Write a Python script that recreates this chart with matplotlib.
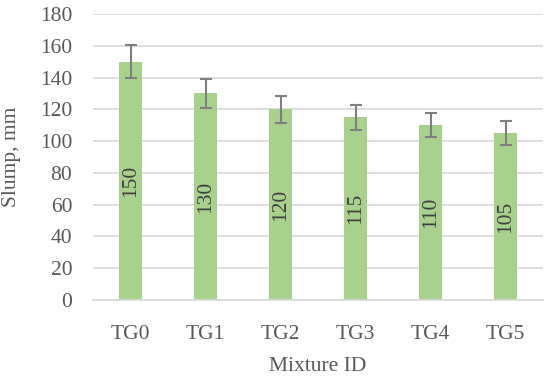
import matplotlib
matplotlib.use("Agg")
import matplotlib.pyplot as plt
import numpy as np

categories = ["TG0", "TG1", "TG2", "TG3", "TG4", "TG5"]
slump = [150, 130, 120, 115, 110, 105]
errors = [10.5, 9, 8.5, 8, 7.7, 7.5]
yticks = [0, 20, 40, 60, 80, 100, 120, 140, 160, 180]

plt.rcParams['font.family'] = ['Liberation Serif', 'DejaVu Serif']
txt = '#595959'
fs = 15.5

fig = plt.figure(figsize=(5.5, 3.78), dpi=100)
ax = fig.add_axes([93/550, 1-300/378, 450/550, (300-14)/378])

x = np.arange(len(categories))
ax.bar(x, slump, width=0.31, color='#A9D18E', zorder=2)
ax.errorbar(x, slump, yerr=errors, fmt='none', ecolor='#7F7F7F', elinewidth=1.5,
            capsize=4, capthick=1.5, zorder=3)
for xi, v in zip(x, slump):
    ax.text(xi, v/2, str(v), rotation=90, ha='center', va='center',
            fontsize=fs, color='#404040', zorder=4)

ax.set_xlim(-0.5, len(categories)-0.5)
ax.set_ylim(0, 180)
ax.set_yticks(yticks)
ax.set_xticks(x)
ax.set_xticklabels(categories)
ax.yaxis.grid(True, color='#D9D9D9', linewidth=1.2, zorder=0)
ax.set_axisbelow(True)
for s in ['top', 'right', 'left']:
    ax.spines[s].set_visible(False)
ax.spines['bottom'].set_color('#D9D9D9')
ax.spines['bottom'].set_linewidth(1.2)
ax.tick_params(axis='both', length=0, labelsize=fs, colors=txt)
ax.tick_params(axis='x', pad=18)
ax.tick_params(axis='y', pad=15)
ax.set_ylabel("Slump, mm", fontsize=fs, color=txt)
ax.set_xlabel("Mixture ID", fontsize=fs, color=txt)
ax.yaxis.set_label_coords(-0.16, 0.5)
ax.xaxis.set_label_coords(0.5, -0.2)

fig.savefig("out.png", dpi=100)
